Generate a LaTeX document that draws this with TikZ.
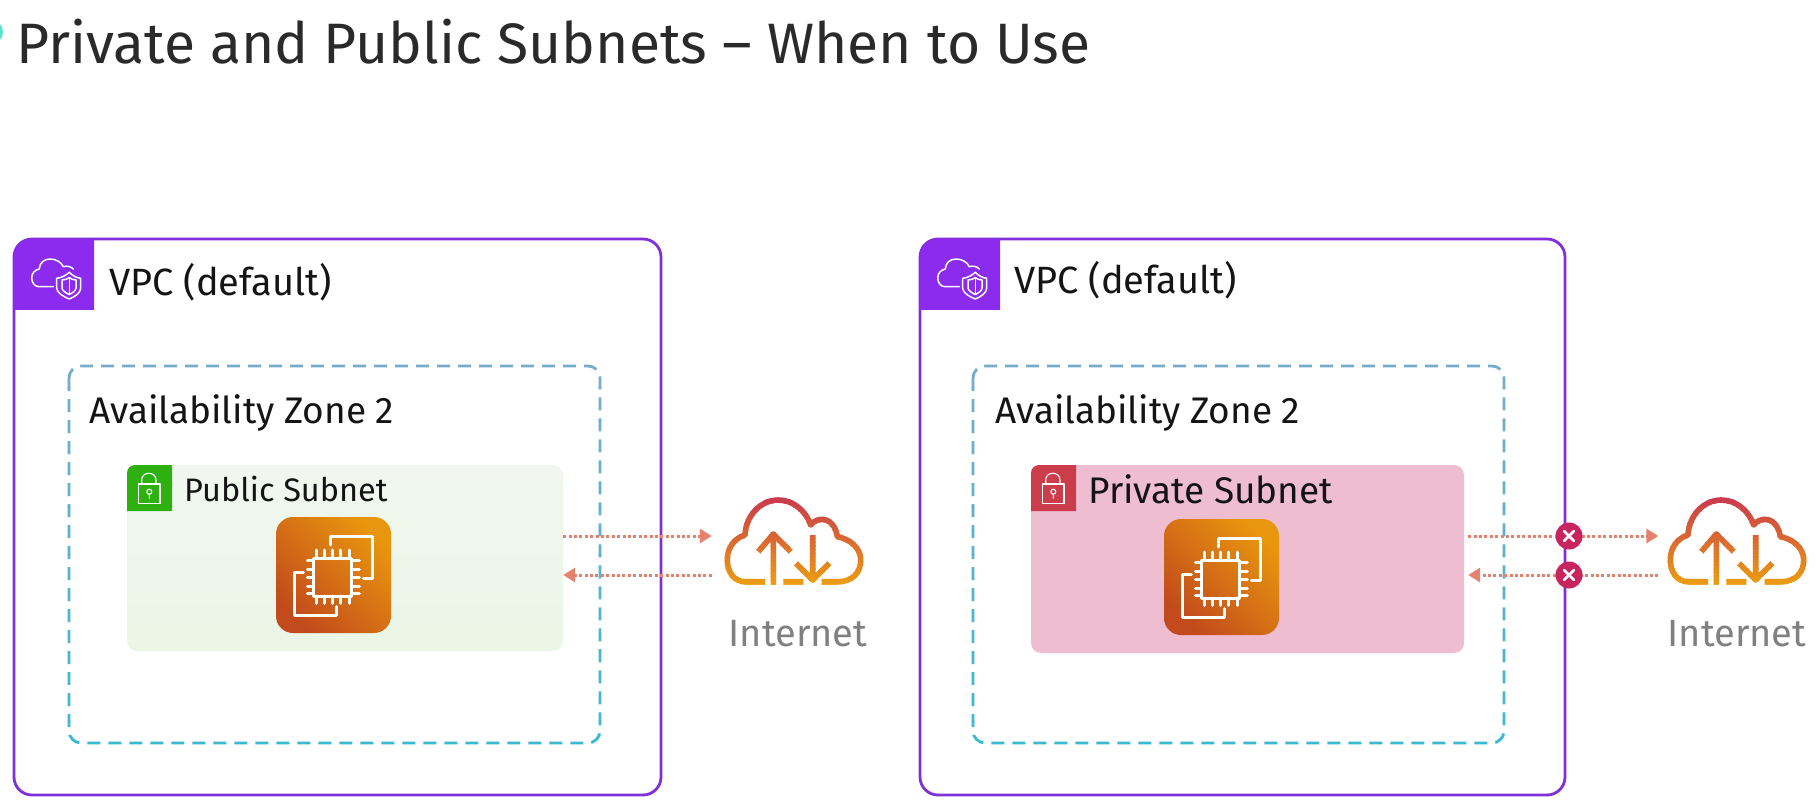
\documentclass[tikz,border=0pt]{standalone}
\usepackage{fontspec}
\setmainfont{Fira Sans}
\usetikzlibrary{arrows.meta}
\definecolor{vpcline}{HTML}{8030D8}
\definecolor{vpcfill}{HTML}{8A2BEE}
\definecolor{aztop}{HTML}{78ACCB}
\definecolor{azbot}{HTML}{38BAD0}
\definecolor{pubgreen}{HTML}{2DB010}
\definecolor{pubtop}{HTML}{F1F7F0}
\definecolor{pubbot}{HTML}{EBF6E6}
\definecolor{privred}{HTML}{CC3D4C}
\definecolor{privfill}{HTML}{EFBDD0}
\definecolor{arrowc}{HTML}{E4826E}
\definecolor{xred}{HTML}{C8255F}
\definecolor{cloudtop}{HTML}{C9374F}
\definecolor{cloudbot}{HTML}{EDA010}
\definecolor{ectl}{HTML}{C24A1C}
\definecolor{ectr}{HTML}{E8960E}
\definecolor{netgrey}{HTML}{808080}
\definecolor{titlec}{HTML}{2A2A2A}
\definecolor{blob}{HTML}{55E3CC}
\tikzset{
  vpcbox/.style={draw=vpcline,line width=2.8pt,rounded corners=18pt},
  labeltext/.style={anchor=west,inner sep=0pt,text=black!92},
  nettext/.style={inner sep=0pt,text=netgrey,font=\fontsize{38}{42}\selectfont},
  flow/.style={arrowc,line width=3pt,dash pattern=on 3pt off 2.4pt,-{Triangle[length=12pt,width=14pt]}},
  xmark/.style={circle,fill=xred,minimum size=27pt,inner sep=0pt},
  xline/.style={white,line width=2.6pt,line cap=round},
  whiteline/.style={white,line width=1.5pt,line cap=round,line join=round},
  chipline/.style={white,line width=3pt,line cap=round,line join=round},
  anchorbox/.style={inner sep=0pt,minimum width=139pt,minimum height=88pt},
  azdash/.style={line width=2.8pt,dash pattern=on 13pt off 8pt,rounded corners=12pt},
}
\newcommand{\gradstroke}[7]{%
  \foreach \i in {1,...,#3}{%
    \pgfmathsetmacro\ya{#1+(\i-1)*(#2-#1)/#3}%
    \pgfmathsetmacro\yb{#1+\i*(#2-#1)/#3+0.3}%
    \pgfmathsetmacro\pct{100*(\i-0.5)/#3}%
    \colorlet{slicec}{#5!\pct!#4}%
    \begin{scope}
      \clip (-300,\ya) rectangle (2200,\yb);
      \draw[slicec,#6] #7;
    \end{scope}
  }%
}
\newcommand{\cloudicon}[2]{%
  \begin{scope}[shift={(#1,#2)}]
    \gradstroke{-2}{90}{24}{cloudtop}{cloudbot}{line width=5.6pt,line join=round}{
      (40,83.7) -- (20,83.7) .. controls (9,83.7) and (2.3,74) .. (2.3,62)
      .. controls (2.3,49) and (10,40) .. (20,37)
      .. controls (21,17) and (36,2) .. (53.3,2)
      .. controls (68,2) and (81,13) .. (85.7,27)
      .. controls (89,23) and (93,21.3) .. (97,21.3)
      .. controls (105,21.3) and (111,29) .. (112.3,38.7)
      .. controls (125,41) and (135.7,50) .. (135.7,62)
      .. controls (135.7,75) and (127,83.7) .. (113.3,83.7) -- (96.7,83.7)
      (58.3,83.7) -- (78.3,83.7)
      (48.3,86.5) -- (48.3,37) (33.3,53.7) -- (48.3,36) -- (65.7,53.7)
      (87.7,37) -- (87.7,82) (71,65.3) -- (87.7,82) -- (104.3,65.3)}
  \end{scope}}
\newcommand{\ecicon}[2]{%
  \begin{scope}[shift={(#1,#2)}]
    \shade[rounded corners=17pt,shading=axis,bottom color=ectl,top color=ectr,shading angle=-45]
      (0,0) rectangle (115,116);
    \draw[chipline] (54.7,28) -- (54.7,19) -- (96.7,19) -- (96.7,61.3) -- (87.3,61.3);
    \draw[chipline] (27.3,55.7) -- (18,55.7) -- (18,98) -- (60.7,98) -- (60.7,89.7);
    \draw[chipline] (37.3,41.3) rectangle (75.7,79);
    \foreach \p in {40.7,48.3,56.3,64.7,73}{\draw[chipline] (\p,33) -- (\p,41.3) (\p,79) -- (\p,86.3);}
    \foreach \p in {43.7,52.3,60.7,69,76.3}{\draw[chipline] (31.3,\p) -- (37.3,\p) (75.7,\p) -- (83.3,\p);}
  \end{scope}}
\newcommand{\vpchead}[2]{%
  \begin{scope}[shift={(#1,#2)}]
    \fill[vpcfill] (0,71) [rounded corners=18pt] -- (0,0) [sharp corners] -- (80,0) -- (80,71) -- cycle;
    \draw[whiteline] (39.3,47.7) -- (25,47.7) .. controls (20.5,47.7) and (17.7,43.5) .. (17.7,38.7)
      .. controls (17.7,34) and (21,31) .. (25.3,30)
      .. controls (25.5,24) and (30,20) .. (36,20)
      .. controls (42,20) and (47,23) .. (49.3,27.7)
      .. controls (53,26.5) and (57,27.5) .. (59.3,30);
    \draw[whiteline] (55.3,33.3) .. controls (52,36.5) and (47,39) .. (42.7,39.3) -- (42.7,49.3)
      .. controls (43,54) and (50,58) .. (55.3,60)
      .. controls (60.5,58) and (66.5,54) .. (66.7,49.3) -- (66.7,39.3)
      .. controls (62.5,39) and (58.5,36.5) .. (55.3,33.3) -- cycle;
    \draw[whiteline] (48,41) -- (48,49) .. controls (48,51.5) and (52,54) .. (55.3,55.5)
      .. controls (58.5,54) and (62,51.5) .. (62,49) -- (62,41) .. controls (59,41) and (57,40) .. (55.3,38.5) .. controls (53.5,40) and (51,41) .. (48,41) -- cycle;
    \draw[whiteline] (55.3,39) -- (55.3,55);
  \end{scope}}
\newcommand{\lockhead}[3]{%
  \begin{scope}[shift={(#1,#2)}]
    \fill[#3] (0,46) [rounded corners=8pt] -- (0,0) [sharp corners] -- (45,0) -- (45,46) -- cycle;
    \draw[whiteline,line width=1.1pt] (11.3,19) rectangle (33,38.3);
    \draw[whiteline,line width=1.1pt] (14.7,19) -- (14.7,15) .. controls (14.7,6) and (29,6) .. (29,15) -- (29,19);
    \draw[whiteline,line width=1.1pt] (22.3,26.7) circle (2.5) (22.3,29.2) -- (22.3,33.3);
  \end{scope}}
\begin{document}
\begin{tikzpicture}[x=1pt,y=-1pt]
\useasboundingbox (0,0) rectangle (1818,810);
\fill[white] (0,0) rectangle (1818,810);
\begin{scope}
  \clip (0,0) rectangle (1818,810);
  \fill[blob] (-9,32) circle (12);
\end{scope}
\node[anchor=west,inner sep=0pt,text=titlec,font=\fontsize{57}{64}\selectfont] (title) at (16,42) {Private and Public Subnets – When to Use};

% left VPC
\draw[vpcbox] (14,239) rectangle (661,795);
\vpchead{14}{239}
\node[labeltext,font=\fontsize{38}{42}\selectfont] (vpcl) at (109,282) {VPC (default)};
\gradstroke{364}{745}{16}{aztop}{azbot}{azdash}{(69,366) rectangle (600,743)}
\node[labeltext,font=\fontsize{37}{42}\selectfont] (azl) at (89,413) {Availability Zone 2};
\shade[rounded corners=10pt,top color=pubtop,bottom color=pubbot] (127,465) rectangle (563,651);
\node[inner sep=0pt,minimum width=436pt,minimum height=186pt] (pub) at (345,558) {};
\lockhead{127}{465}{pubgreen}
\node[labeltext,font=\fontsize{32.5}{36}\selectfont] (publ) at (184,489) {Public Subnet};
\ecicon{276}{517}
\node[anchorbox] (cloudl) at (794.5,542) {};
\cloudicon{725}{498}
\node[nettext] (netl) at (798,634) {Internet};
\draw[flow] (pub.east |- 0,536) -- ([xshift=-13pt]cloudl.west |- 0,536);
\draw[flow] ([xshift=-13pt]cloudl.west |- 0,575) -- (pub.east |- 0,575);

% right VPC
\draw[vpcbox] (920,239) rectangle (1565,795);
\vpchead{920}{239}
\node[labeltext,font=\fontsize{38}{42}\selectfont] (vpcr) at (1014,280) {VPC (default)};
\gradstroke{364}{745}{16}{aztop}{azbot}{azdash}{(973,366) rectangle (1504,743)}
\node[labeltext,font=\fontsize{37}{42}\selectfont] (azr) at (995,413) {Availability Zone 2};
\fill[privfill,rounded corners=10pt] (1031,465) rectangle (1464,653);
\node[inner sep=0pt,minimum width=433pt,minimum height=188pt] (priv) at (1247.5,559) {};
\lockhead{1031}{465}{privred}
\node[labeltext,font=\fontsize{37}{42}\selectfont] (privl) at (1088,489) {Private Subnet};
\ecicon{1164}{519}
\node[anchorbox] (cloudr) at (1737,542) {};
\cloudicon{1668}{498}
\node[nettext] (netr) at (1737,634) {Internet};
\draw[flow] ([xshift=4pt]priv.east |- 0,536) -- ([xshift=-9pt]cloudr.west |- 0,536);
\draw[flow] ([xshift=-9pt]cloudr.west |- 0,575) -- ([xshift=4pt]priv.east |- 0,575);
\node[xmark] (xa) at (1569,536) {};
\node[xmark] (xb) at (1569,575) {};
\draw[xline] (1564,531) -- (1574,541) (1564,541) -- (1574,531);
\draw[xline] (1564,570) -- (1574,580) (1564,580) -- (1574,570);
\end{tikzpicture}
\end{document}
